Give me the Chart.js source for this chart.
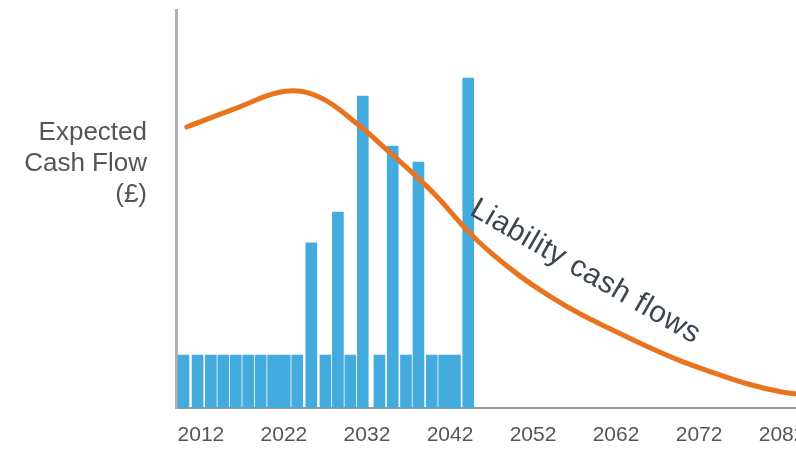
<html>
    <head>
        <title>Expected Cash Flow</title>
        <script src="https://cdn.jsdelivr.net/npm/chart.js"></script>
        <style>
            html, body {
                margin: 0;
                padding: 0;
                overflow: hidden;
                background: white;
            }
            #container {
                width: 840px;
                height: 450px;
            }
        </style>
    </head>
    <body>
        <div id="container"><canvas id="cashflow-chart"></canvas></div>
        <script>
            // asset payments (bars), year of each payment and its size
            const paymentYears = [2009.9, 2011.6, 2013.2, 2014.7, 2016.2, 2017.7, 2019.2, 2020.7, 2022.1, 2023.6,
                                  2025.3, 2027.0, 2028.5, 2030.0, 2031.5, 2033.5, 2035.1, 2036.7, 2038.2, 2039.8,
                                  2041.3, 2042.6, 2044.2];
            const paymentValues = [13.3, 13.3, 13.3, 13.3, 13.3, 13.3, 13.3, 13.3, 13.3, 13.3,
                                   41.5, 13.3, 49.2, 13.3, 78.4, 13.3, 65.8, 13.3, 61.8, 13.3,
                                   13.3, 13.3, 82.9];

            // liability cash flow curve
            const liabilityYears = [2010.3, 2016.6, 2022.1, 2026.3, 2030.8, 2034.8, 2038.8, 2040.8, 2043.8, 2046.8,
                                    2050.4, 2054.1, 2057.7, 2061.7, 2065.7, 2069.7, 2073.7, 2077.8, 2081.8, 2085.0];
            const liabilityValues = [70.6, 75.6, 79.6, 78.1, 71.4, 64.1, 56.5, 52.3, 45.2, 39.2,
                                     33.2, 28.0, 23.6, 19.5, 15.5, 11.9, 8.9, 6.1, 4.1, 3.2];

            const yearTicks = [2012, 2022, 2032, 2042, 2052, 2062, 2072, 2082];
            const yTitleLines = ['Expected', 'Cash Flow', '(£)'];
            const yTitleValue = 61.4;

            const curveLabel = 'Liability cash flows';
            const curveLabelYear = 2057.8;
            const curveLabelValue = 32.4;
            const curveLabelAngle = 30;

            Chart.defaults.font.family = '"Liberation Sans", Arial, sans-serif';

            // draws the slanted label along the curve
            const curveLabelPlugin = {
                id: 'curveLabel',
                afterDatasetsDraw(chart) {
                    const {ctx, scales} = chart;
                    ctx.save();
                    ctx.translate(scales.x.getPixelForValue(curveLabelYear), scales.y.getPixelForValue(curveLabelValue));
                    ctx.rotate(curveLabelAngle * Math.PI / 180);
                    ctx.font = '30px "Liberation Sans", Arial, sans-serif';
                    ctx.letterSpacing = '0.6px';
                    ctx.fillStyle = '#3c4653';
                    ctx.textAlign = 'center';
                    ctx.textBaseline = 'alphabetic';
                    ctx.fillText(curveLabel, 0, 0);
                    ctx.restore();
                }
            };

            const data = {
                datasets: [
                    {
                        type: 'line',
                        label: 'Liability cash flows',
                        data: liabilityYears.map((x, i) => ({x: x, y: liabilityValues[i]})),
                        borderColor: '#e8741f',
                        borderWidth: 5,
                        borderCapStyle: 'round',
                        pointRadius: 0,
                        tension: 0.4,
                        order: 0,
                    },
                    {
                        type: 'bar',
                        label: 'Asset cash flows',
                        data: paymentYears.map((x, i) => ({x: x, y: paymentValues[i]})),
                        backgroundColor: '#43abde',
                        barThickness: 11,
                        order: 1,
                    }
                ]
            };

            const config = {
                data: data,
                options: {
                    responsive: true,
                    maintainAspectRatio: false,
                    animation: false,
                    layout: {
                        padding: {top: 10, right: 33, bottom: 2, left: 0}
                    },
                    plugins: {
                        legend: {display: false},
                        tooltip: {enabled: false},
                    },
                    scales: {
                        x: {
                            type: 'linear',
                            min: 2009,
                            max: 2085,
                            offset: false,
                            afterBuildTicks: scale => { scale.ticks = yearTicks.map(v => ({value: v})); },
                            afterFit: scale => {
                                scale.height = 40;
                                scale.paddingLeft = 0;
                                scale.paddingRight = 0;
                            },
                            ticks: {
                                autoSkip: false,
                                maxRotation: 0,
                                padding: 15,
                                color: '#555555',
                                font: {size: 21},
                                callback: v => String(v),
                            },
                            grid: {display: false, drawTicks: false, offset: false},
                            border: {display: true, color: '#9a9a9a', width: 2},
                        },
                        y: {
                            type: 'linear',
                            min: 0,
                            max: 100,
                            afterBuildTicks: scale => { scale.ticks = [{value: yTitleValue}]; },
                            afterFit: scale => {
                                scale.width = 176;
                                scale.paddingTop = 0;
                                scale.paddingBottom = 0;
                            },
                            ticks: {
                                padding: 29,
                                color: '#555555',
                                font: {size: 26, lineHeight: 1.2},
                                callback: () => yTitleLines,
                            },
                            grid: {display: false, drawTicks: false},
                            border: {display: true, color: '#b0b0b0', width: 3},
                        }
                    }
                },
                plugins: [curveLabelPlugin]
            };

            new Chart(document.getElementById('cashflow-chart'), config);
        </script>
    </body>
</html>
